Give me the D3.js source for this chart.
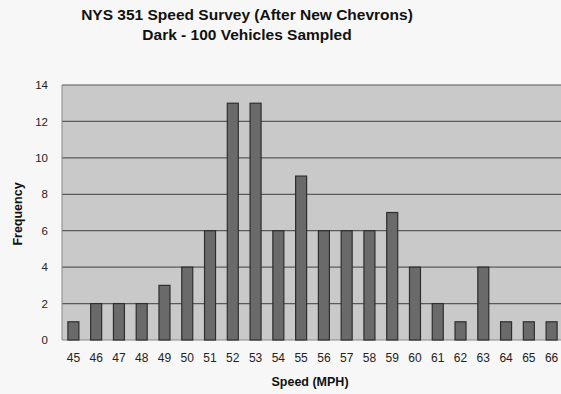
<!DOCTYPE html>
<html><head><meta charset="utf-8">
<script src="https://cdn.jsdelivr.net/npm/d3@7"></script>
<style>body{margin:0;background:#f7f7f7;}svg{display:block;font-family:"Liberation Sans",Arial,sans-serif;}</style>
</head><body>
<svg id="c" width="561" height="394"></svg>
<script>
const speeds = ["45","46","47","48","49","50","51","52","53","54","55","56","57","58","59","60","61","62","63","64","65","66"];
const frequency = [1,2,2,2,3,4,6,13,13,6,9,6,6,6,7,4,2,1,4,1,1,1];
const yTicks = [0,2,4,6,8,10,12,14];
const titleLines = ["NYS 351 Speed Survey (After New Chevrons)","Dark - 100 Vehicles Sampled"];

const svg = d3.select("#c");
const m = {l:62, r:0, t:85, b:55};
const x = d3.scaleBand().domain(speeds).range([m.l, 563]).paddingInner(0.5).paddingOuter(0.25);
const y = d3.scaleLinear().domain([0,14]).range([340, 85]);

svg.append("rect").attr("x", m.l).attr("y", y(14)).attr("width", 561-m.l).attr("height", y(0)-y(14)).attr("fill","#c9c9c9");

svg.append("g").selectAll("line").data(yTicks.filter(d=>d>0)).join("line")
  .attr("x1", m.l).attr("x2", 561).attr("y1", d=>y(d)).attr("y2", d=>y(d))
  .attr("stroke","#5a5a5a").attr("stroke-width",1.2);

svg.append("line").attr("x1",m.l).attr("x2",m.l).attr("y1",y(14)).attr("y2",y(0)).attr("stroke","#888");
svg.append("line").attr("x1",m.l).attr("x2",561).attr("y1",y(0)).attr("y2",y(0)).attr("stroke","#888");

const barW = 11;
svg.append("g").selectAll("rect").data(speeds).join("rect")
  .attr("x", (d)=>x(d)+x.bandwidth()/2-barW/2)
  .attr("y", (d,i)=>y(frequency[i]))
  .attr("width", barW)
  .attr("height", (d,i)=>y(0)-y(frequency[i]))
  .attr("fill","#6a6a6a").attr("stroke","#2e2e2e").attr("stroke-width",1.2);

const ya = svg.append("g").attr("transform",`translate(${m.l},0)`)
  .call(d3.axisLeft(y).tickValues(yTicks).tickSize(0).tickPadding(14));
ya.select(".domain").remove();
ya.selectAll("text").attr("font-size",11.5).attr("fill","#222").attr("font-family","Liberation Sans, Arial, sans-serif");

const xa = svg.append("g").attr("transform",`translate(0,${y(0)})`)
  .call(d3.axisBottom(x).tickSize(0).tickPadding(13));
xa.select(".domain").remove();
xa.selectAll("text").attr("font-size",12).attr("fill","#222").attr("font-family","Liberation Sans, Arial, sans-serif");

svg.append("g").selectAll("text").data(titleLines).join("text")
  .attr("x",247).attr("y",(d,i)=>20+i*20).attr("text-anchor","middle")
  .attr("font-size",15.5).attr("font-weight","bold").attr("fill","#111").text(d=>d);

svg.append("text").attr("x",310).attr("y",386).attr("text-anchor","middle")
  .attr("font-size",12.5).attr("font-weight","bold").attr("fill","#111").text("Speed (MPH)");

svg.append("text").attr("transform","translate(22,214) rotate(-90)").attr("text-anchor","middle")
  .attr("font-size",12.5).attr("font-weight","bold").attr("fill","#111").text("Frequency");
</script>
</body></html>
